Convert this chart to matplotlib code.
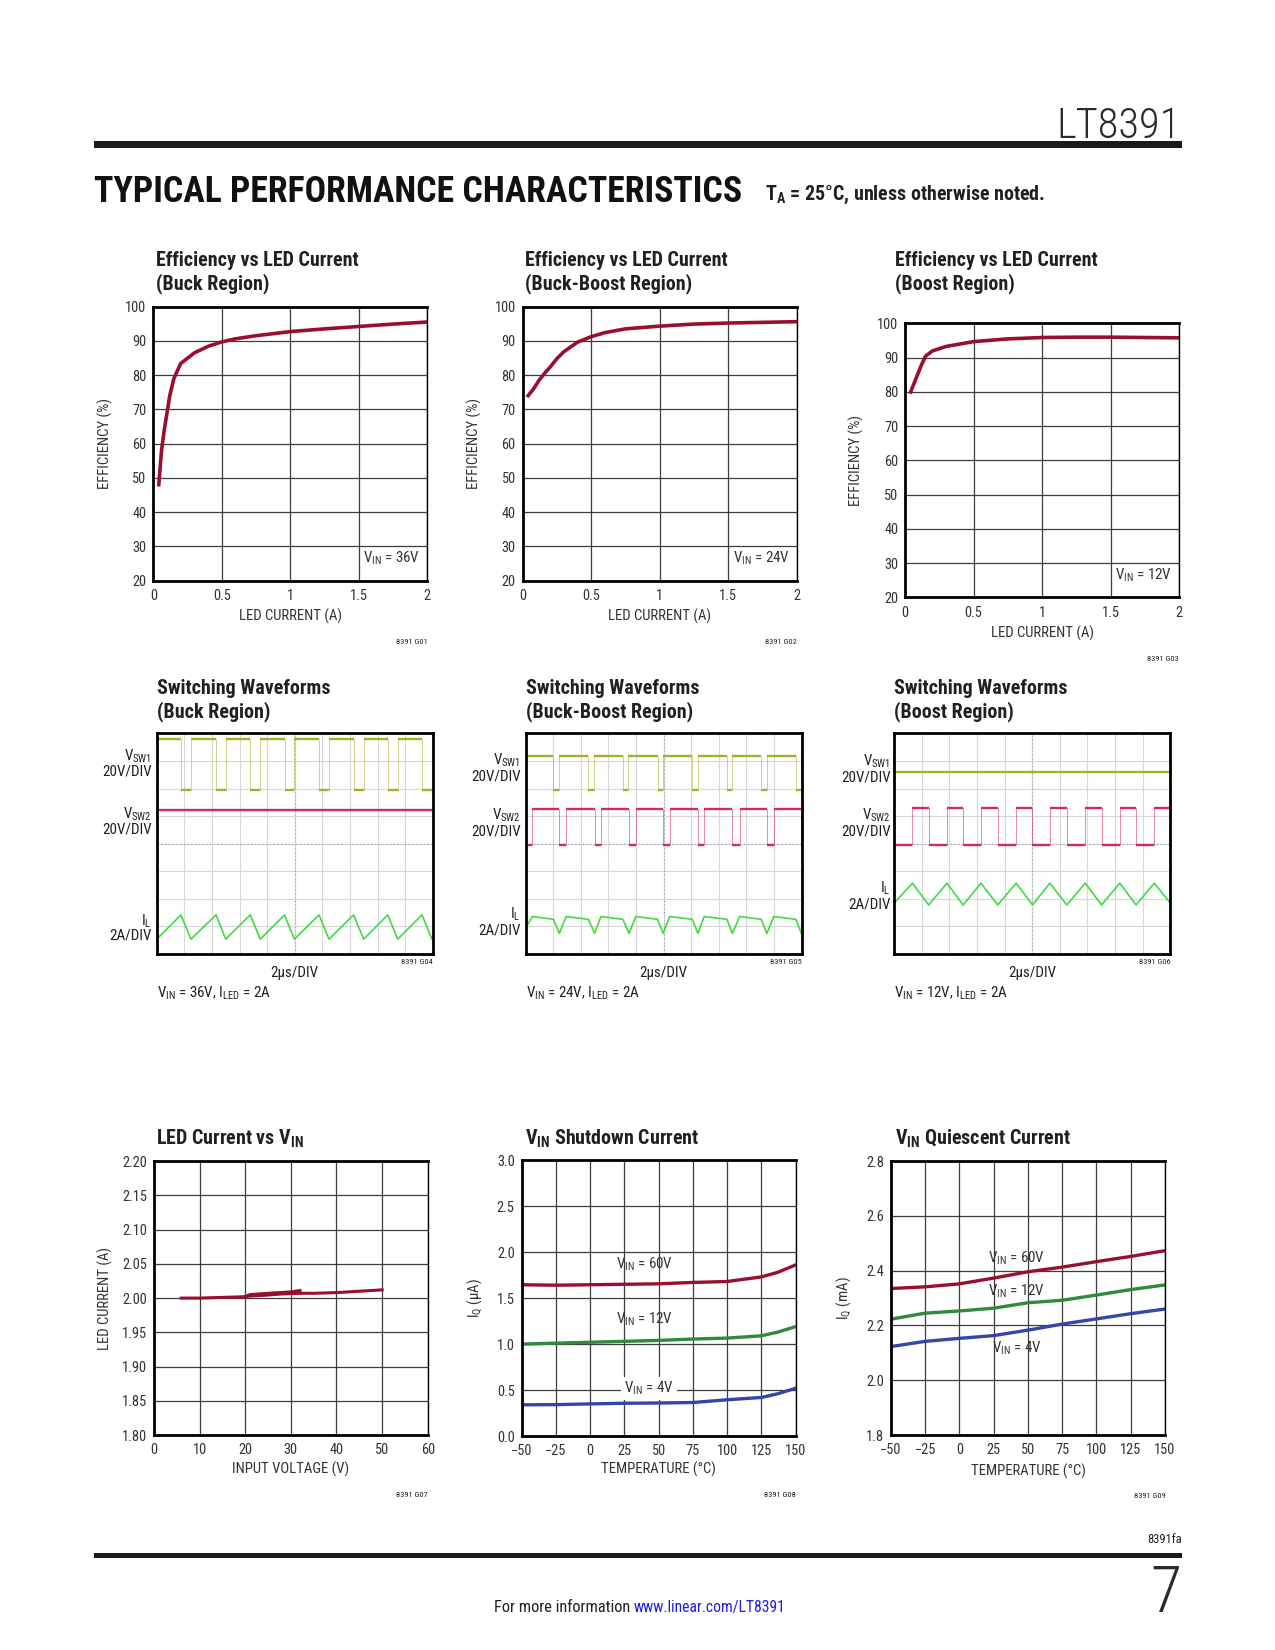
import matplotlib
matplotlib.use("Agg")
import matplotlib.pyplot as plt
from matplotlib import font_manager
from matplotlib.patches import Rectangle

# pick a condensed sans if one is installed (reference uses Helvetica Condensed)
entries = font_manager.fontManager.ttflist
names = {f.name for f in entries}
FAMILY, STRETCH = "Liberation Sans", "normal"
for cand in ["Liberation Sans Narrow", "Roboto Condensed", "Noto Sans Condensed", "Open Sans Condensed",
             "DejaVu Sans Condensed", "Noto Sans SemiCondensed", "Open Sans SemiCondensed"]:
    if cand in names:
        FAMILY = cand
        break
else:
    for f in entries:
        if str(f.stretch) in ("condensed", "semi-condensed") and f.name in (
                "Roboto", "Noto Sans", "Open Sans", "DejaVu Sans", "Liberation Sans"):
            FAMILY, STRETCH = f.name, str(f.stretch)
            break

SUFFIX = "" if STRETCH == "normal" else ":" + STRETCH
plt.rcParams["font.family"] = [FAMILY, "DejaVu Sans"]
plt.rcParams["font.stretch"] = STRETCH
plt.rcParams["mathtext.fontset"] = "custom"
plt.rcParams["mathtext.rm"] = FAMILY + SUFFIX
plt.rcParams["mathtext.it"] = FAMILY + SUFFIX
plt.rcParams["mathtext.bf"] = FAMILY + ":bold" + SUFFIX
plt.rcParams["mathtext.default"] = "rm"

INK = "#231f20"
RED = "#9a0f30"
GREEN = "#2f8a3c"
BLUE = "#3446a8"
GRID = "#3c3c3c"
SW1_C = "#a9ad2c"
SW2_C = "#d4286c"
IL_C = "#3fdc3f"

TICK_FS = 10.4
LABEL_FS = 10.6
NOTE_FS = 10.8
TITLE_FS = 14.4
CODE_FS = 6

# ---- efficiency vs LED current ----
EFF_XTICKS = [0, 0.5, 1, 1.5, 2]
EFF_XTICKLABELS = ["0", "0.5", "1", "1.5", "2"]
EFF_YTICKS = [20, 30, 40, 50, 60, 70, 80, 90, 100]

buck_i = [0.04, 0.06, 0.08, 0.10, 0.12, 0.15, 0.20, 0.30, 0.40, 0.50, 0.60, 0.75, 1.00, 1.25, 1.50, 1.75, 2.00]
buck_eff = [48, 58, 64, 69, 74, 79, 83.4, 86.5, 88.4, 89.7, 90.6, 91.5, 92.7, 93.5, 94.2, 94.9, 95.5]

bb_i = [0.04, 0.08, 0.12, 0.16, 0.20, 0.25, 0.30, 0.40, 0.50, 0.60, 0.75, 1.00, 1.25, 1.50, 1.75, 2.00]
bb_eff = [74, 76, 78.5, 80.5, 82.3, 84.8, 86.8, 89.6, 91.2, 92.4, 93.5, 94.3, 94.9, 95.2, 95.4, 95.6]

bst_i = [0.04, 0.08, 0.12, 0.15, 0.20, 0.30, 0.50, 0.75, 1.00, 1.25, 1.50, 1.75, 2.00]
bst_eff = [80, 84, 88, 90.5, 92, 93.3, 94.7, 95.5, 95.9, 96.0, 96.0, 95.9, 95.8]

# ---- switching waveforms (scope divisions: x 0..10, y 0..8) ----
buck_sw1_fall = [0.88, 2.15, 3.39, 4.63, 5.88, 7.13, 8.37, 9.61]
buck_sw1_rise = [1.24, 2.50, 3.75, 4.99, 6.24, 7.50, 8.73, 9.97]
buck_sw1_lv = (7.80, 5.94)
buck_sw2_lv = 5.23
buck_il_lv = (1.42, 0.54)

bb_sw1_fall = [1.01, 2.27, 3.52, 4.78, 6.04, 7.29, 8.53, 9.79]
bb_sw1_rise = [1.21, 2.47, 3.72, 4.98, 6.24, 7.49, 8.74, 9.99]
bb_sw1_lv = (7.19, 5.95)
bb_sw2_rise = [0.25, 1.47, 2.73, 3.99, 5.22, 6.47, 7.75, 8.99]
bb_sw2_fall = [1.22, 2.50, 3.75, 4.98, 6.24, 7.49, 8.74, 9.99]
bb_sw2_lv = (5.27, 3.94)
bb_il_lv = (1.36, 1.26, 0.75)
bb_il_start = 0.95

bst_sw1_lv = 6.59
bst_sw2_rise = [0.66, 1.91, 3.14, 4.42, 5.64, 6.92, 8.17, 9.42]
bst_sw2_fall = [1.25, 2.50, 3.75, 5.01, 6.25, 7.51, 8.76]
bst_sw2_lv = (5.29, 3.96)
bst_il_lv = (2.57, 1.78)
bst_il_start = 1.85
bst_il_end = 1.85

# ---- LED current vs VIN ----
led_vin_up = [6, 10, 15, 20, 21, 25, 30, 32]
led_i_up = [2.000, 2.000, 2.001, 2.002, 2.005, 2.007, 2.009, 2.011]
led_vin_dn = [32, 28, 24, 21, 20]
led_i_dn = [2.007, 2.006, 2.004, 2.003, 2.002]
led_vin_hi = [32, 35, 40, 45, 50]
led_i_hi = [2.007, 2.007, 2.008, 2.010, 2.012]

# ---- shutdown current ----
TEMP = [-50, -25, 0, 25, 50, 75, 100, 125, 137, 150]
TEMP_TICKS = [-50, -25, 0, 25, 50, 75, 100, 125, 150]
TEMP_LABELS = ["\u221250", "\u221225", "0", "25", "50", "75", "100", "125", "150"]
shdn_60 = [1.645, 1.640, 1.645, 1.650, 1.655, 1.670, 1.680, 1.730, 1.780, 1.860]
shdn_12 = [1.000, 1.010, 1.020, 1.030, 1.040, 1.055, 1.065, 1.090, 1.130, 1.190]
shdn_4 = [0.340, 0.342, 0.350, 0.357, 0.360, 0.365, 0.395, 0.420, 0.460, 0.520]

# ---- quiescent current ----
TEMP_Q = [-50, -25, 0, 25, 50, 75, 100, 125, 150]
iq_60 = [2.335, 2.341, 2.352, 2.373, 2.396, 2.413, 2.433, 2.452, 2.473]
iq_12 = [2.223, 2.245, 2.253, 2.263, 2.283, 2.292, 2.311, 2.331, 2.348]
iq_4 = [2.123, 2.142, 2.153, 2.163, 2.183, 2.205, 2.224, 2.243, 2.260]

# page frame (reference measured on a 1210 x 1566 grid)
W, H = 1210.0, 1566.0
fig = plt.figure(figsize=(12.75, 16.5), dpi=100)
fig.patch.set_facecolor("white")


def frac(x0, y0, x1, y1):
    return [x0 / W, 1 - y1 / H, (x1 - x0) / W, (y1 - y0) / H]


def ftxt(x, y, s, **kw):
    kw.setdefault("color", INK)
    return fig.text(x / W, 1 - y / H, s, **kw)


def rule(x0, y0, x1, y1):
    fig.patches.append(Rectangle((x0 / W, 1 - y1 / H), (x1 - x0) / W, (y1 - y0) / H,
                                 transform=fig.transFigure, color="#1a1a1a", lw=0))


def fit_width(t, width):
    # scale a text so it spans the given page width
    r = fig.canvas.get_renderer()
    w = t.get_window_extent(renderer=r).width
    target = width / W * fig.bbox.width
    t.set_fontsize(t.get_fontsize() * target / w)


def style(ax):
    ax.grid(True, color=GRID, lw=0.9)
    ax.set_axisbelow(True)
    ax.tick_params(length=0, labelsize=TICK_FS, colors="#333333")
    ax.tick_params(axis="x", pad=6)
    ax.tick_params(axis="y", pad=5)
    for name, sp in ax.spines.items():
        sp.set_color("black")
        sp.set_linewidth(2.0 if name in ("left", "top", "bottom") else 1.0)


def title(x, y, lines):
    for k, ln in enumerate(lines):
        ftxt(x, y + 22 * k, ln, fontsize=TITLE_FS, fontweight="bold", va="center", ha="left")


# ---------------- page furniture ----------------
t = ftxt(1121, 131, "LT8391", fontsize=33, ha="right", va="baseline", color="#2a2a2a", fontweight="light")
fit_width(t, 118)
rule(89, 134, 1122, 140)
t = ftxt(89, 192, "TYPICAL PERFORMANCE CHARACTERISTICS", fontsize=28, fontweight="heavy",
         ha="left", va="baseline", color="#111111")
fit_width(t, 617)
t = ftxt(726, 190, "T$_{\\mathbf{A}}$ = 25\u00b0C, unless otherwise noted.", fontsize=12.5,
         fontweight="bold", ha="left", va="baseline")
fit_width(t, 267)
ftxt(1122, 1461, "8391fa", fontsize=9, ha="right", va="center")
rule(89, 1474, 1122, 1479)
ftxt(1121, 1530, "7", fontsize=46, ha="right", va="baseline", color="#2a2a2a", fontweight="light")
t = ftxt(598, 1526, "For more information", fontsize=11, ha="right", va="center")
fit_width(t, 130)
t = ftxt(601, 1526, "www.linear.com/LT8391", fontsize=11, ha="left", va="center", color="#1c1cf0")
fit_width(t, 144)

# ---------------- row 1: efficiency ----------------
eff_specs = [
    ((145.5, 291, 405.5, 551), buck_i, buck_eff, "36V", "8391 G01", 148, ["Efficiency vs LED Current", "(Buck Region)"]),
    ((496, 291, 756, 551), bb_i, bb_eff, "24V", "8391 G02", 498, ["Efficiency vs LED Current", "(Buck-Boost Region)"]),
    ((859, 307, 1119, 567), bst_i, bst_eff, "12V", "8391 G03", 849, ["Efficiency vs LED Current", "(Boost Region)"]),
]
for (bx, xs, ys, vin, code, tx, ttl) in eff_specs:
    ax = fig.add_axes(frac(*bx))
    ax.plot(xs, ys, color=RED, lw=2.6)
    ax.set_xlim(0, 2)
    ax.set_ylim(20, 100)
    ax.set_xticks(EFF_XTICKS)
    ax.set_xticklabels(EFF_XTICKLABELS)
    ax.set_yticks(EFF_YTICKS)
    style(ax)
    ax.text(0.975, 0.05, "V$_{IN}$ = " + vin, transform=ax.transAxes, ha="right", va="bottom",
            fontsize=NOTE_FS, color="#333333")
    x0, y0, x1, y1 = bx
    ftxt((x0 + x1) / 2, y1 + 34, "LED CURRENT (A)", fontsize=LABEL_FS, ha="center", va="center", color="#333333")
    ftxt(x0 - 46, (y0 + y1) / 2, "EFFICIENCY (%)", fontsize=LABEL_FS, rotation=90, ha="center", va="center",
         color="#333333")
    ftxt(x1, y1 + 58, code, fontsize=CODE_FS, ha="right", va="center")
    title(tx, 247, ttl)


# ---------------- row 2: switching waveforms ----------------
def step_xy(start, events, t_end=10.0):
    xs, ys = [0.0], [start]
    lv = start
    for t, v in sorted(events):
        xs += [t, t]
        ys += [lv, v]
        lv = v
    xs.append(t_end)
    ys.append(lv)
    return xs, ys


def draw_step(ax, xs, ys, color):
    ax.plot(xs, ys, color=color, lw=0.7, alpha=0.55)
    for k in range(0, len(xs) - 1):
        if ys[k] == ys[k + 1] and xs[k + 1] > xs[k]:
            ax.plot([xs[k], xs[k + 1]], [ys[k], ys[k + 1]], color=color, lw=1.7, solid_capstyle="butt")


def scope_axes(bx):
    ax = fig.add_axes(frac(*bx))
    ax.set_xlim(0, 10)
    ax.set_ylim(0, 8)
    ax.set_xticks(range(11))
    ax.set_yticks(range(9))
    ax.grid(True, color="#d8d8d8", lw=0.8)
    ax.axhline(4, color="#a8a8a8", lw=0.9, ls=(0, (1, 2)))
    ax.axvline(5, color="#a8a8a8", lw=0.9, ls=(0, (1, 2)))
    ax.tick_params(length=0, labelbottom=False, labelleft=False)
    for sp in ax.spines.values():
        sp.set_color("black")
        sp.set_linewidth(2.0)
    return ax


def scope_labels(xr, ys):
    txt = ["V$_{SW1}$", "20V/DIV", "V$_{SW2}$", "20V/DIV", "I$_{L}$", "2A/DIV"]
    for s, y in zip(txt, ys):
        ftxt(xr, y, s, fontsize=NOTE_FS, ha="right", va="center")


scope_boxes = [(148.7, 696, 410.7, 905.5), (498.8, 696, 760.8, 905.5), (848.6, 696, 1110.6, 905.5)]

# buck
ax = scope_axes(scope_boxes[0])
ev = [(t, buck_sw1_lv[1]) for t in buck_sw1_fall] + [(t, buck_sw1_lv[0]) for t in buck_sw1_rise]
draw_step(ax, *step_xy(buck_sw1_lv[0], ev), SW1_C)
ax.plot([0, 10], [buck_sw2_lv, buck_sw2_lv], color=SW2_C, lw=1.7)
pts = [(0.0, buck_il_lv[1])] + [(t, buck_il_lv[0]) for t in buck_sw1_fall] + [(t, buck_il_lv[1]) for t in buck_sw1_rise]
pts = sorted(pts) + [(10.0, buck_il_lv[1] + 0.03)]
ax.plot([p[0] for p in pts], [p[1] for p in pts], color=IL_C, lw=1.2)
scope_labels(144, [718, 732, 773, 787, 874, 888])

# buck-boost
ax = scope_axes(scope_boxes[1])
ev = [(t, bb_sw1_lv[1]) for t in bb_sw1_fall] + [(t, bb_sw1_lv[0]) for t in bb_sw1_rise]
draw_step(ax, *step_xy(bb_sw1_lv[0], ev), SW1_C)
ev = [(t, bb_sw2_lv[0]) for t in bb_sw2_rise] + [(t, bb_sw2_lv[1]) for t in bb_sw2_fall]
draw_step(ax, *step_xy(bb_sw2_lv[1], ev), SW2_C)
pts = [(0.0, bb_il_start)] + [(t, bb_il_lv[0]) for t in bb_sw2_rise] + \
      [(t, bb_il_lv[1]) for t in bb_sw1_fall] + [(t, bb_il_lv[2]) for t in bb_sw2_fall]
pts = sorted(pts) + [(10.0, bb_il_lv[2] + 0.05)]
ax.plot([p[0] for p in pts], [p[1] for p in pts], color=IL_C, lw=1.2)
scope_labels(494, [722, 737, 774, 789, 868, 883])

# boost
ax = scope_axes(scope_boxes[2])
ax.plot([0, 10], [bst_sw1_lv, bst_sw1_lv], color=SW1_C, lw=1.7)
ev = [(t, bst_sw2_lv[0]) for t in bst_sw2_rise] + [(t, bst_sw2_lv[1]) for t in bst_sw2_fall]
draw_step(ax, *step_xy(bst_sw2_lv[1], ev), SW2_C)
pts = [(0.0, bst_il_start)] + [(t, bst_il_lv[0]) for t in bst_sw2_rise] + [(t, bst_il_lv[1]) for t in bst_sw2_fall]
pts = sorted(pts) + [(10.0, bst_il_end)]
ax.plot([p[0] for p in pts], [p[1] for p in pts], color=IL_C, lw=1.2)
scope_labels(845, [723, 738, 774, 789, 843, 858])

scope_titles = [["Switching Waveforms", "(Buck Region)"],
                ["Switching Waveforms", "(Buck-Boost Region)"],
                ["Switching Waveforms", "(Boost Region)"]]
scope_notes = ["V$_{IN}$ = 36V, I$_{LED}$ = 2A", "V$_{IN}$ = 24V, I$_{LED}$ = 2A", "V$_{IN}$ = 12V, I$_{LED}$ = 2A"]
scope_codes = ["8391 G04", "8391 G05", "8391 G06"]
for bx, ttl, note, code in zip(scope_boxes, scope_titles, scope_notes, scope_codes):
    x0, y0, x1, y1 = bx
    title(x0, 653, ttl)
    ftxt((x0 + x1) / 2, 923, "2\u00b5s/DIV", fontsize=NOTE_FS, ha="center", va="center")
    ftxt(x0, 943, note, fontsize=NOTE_FS, ha="left", va="center")
    ftxt(x1, 913, code, fontsize=CODE_FS, ha="right", va="center")

# ---------------- row 3 ----------------
# LED current vs VIN
bx = (146, 1102, 406, 1362)
ax = fig.add_axes(frac(*bx))
ax.plot(led_vin_up, led_i_up, color=RED, lw=2.2)
ax.plot(led_vin_dn, led_i_dn, color=RED, lw=2.2)
ax.plot(led_vin_hi, led_i_hi, color=RED, lw=2.2)
ax.set_xlim(0, 60)
ax.set_ylim(1.80, 2.20)
ax.set_xticks([0, 10, 20, 30, 40, 50, 60])
ax.set_yticks([1.80, 1.85, 1.90, 1.95, 2.00, 2.05, 2.10, 2.15, 2.20])
ax.set_yticklabels(["1.80", "1.85", "1.90", "1.95", "2.00", "2.05", "2.10", "2.15", "2.20"])
style(ax)
ftxt(276, 1395, "INPUT VOLTAGE (V)", fontsize=LABEL_FS, ha="center", va="center", color="#333333")
ftxt(100, 1232, "LED CURRENT (A)", fontsize=LABEL_FS, rotation=90, ha="center", va="center", color="#333333")
ftxt(406, 1419, "8391 G07", fontsize=CODE_FS, ha="right", va="center")
title(148, 1081, ["LED Current vs V$_{\\mathbf{IN}}$"])

# shutdown current
bx = (495, 1101, 755, 1363)
ax = fig.add_axes(frac(*bx))
ax.plot(TEMP, shdn_60, color=RED, lw=2.4)
ax.plot(TEMP, shdn_12, color=GREEN, lw=2.4)
ax.plot(TEMP, shdn_4, color=BLUE, lw=2.4)
ax.set_xlim(-50, 150)
ax.set_ylim(0, 3.0)
ax.set_xticks(TEMP_TICKS)
ax.set_xticklabels(TEMP_LABELS)
ax.set_yticks([0, 0.5, 1.0, 1.5, 2.0, 2.5, 3.0])
ax.set_yticklabels(["0.0", "0.5", "1.0", "1.5", "2.0", "2.5", "3.0"])
style(ax)
ax.text(40, 1.87, "V$_{IN}$ = 60V", fontsize=NOTE_FS, ha="center", va="center", color="#333333")
ax.text(40, 1.27, "V$_{IN}$ = 12V", fontsize=NOTE_FS, ha="center", va="center", color="#333333")
ax.text(43, 0.52, "V$_{IN}$ = 4V", fontsize=NOTE_FS, ha="center", va="center", color="#333333",
        bbox=dict(fc="white", ec="none", pad=2))
ftxt(625, 1395, "TEMPERATURE (\u00b0C)", fontsize=LABEL_FS, ha="center", va="center", color="#333333")
ftxt(451, 1232, "I$_{Q}$ (\u00b5A)", fontsize=LABEL_FS, rotation=90, ha="center", va="center", color="#333333")
ftxt(755, 1419, "8391 G08", fontsize=CODE_FS, ha="right", va="center")
title(498, 1081, ["V$_{\\mathbf{IN}}$ Shutdown Current"])

# quiescent current
bx = (845.5, 1102, 1105.5, 1362)
ax = fig.add_axes(frac(*bx))
ax.plot(TEMP_Q, iq_60, color=RED, lw=2.4)
ax.plot(TEMP_Q, iq_12, color=GREEN, lw=2.4)
ax.plot(TEMP_Q, iq_4, color=BLUE, lw=2.4)
ax.set_xlim(-50, 150)
ax.set_ylim(1.8, 2.8)
ax.set_xticks(TEMP_TICKS)
ax.set_xticklabels(TEMP_LABELS)
ax.set_yticks([1.8, 2.0, 2.2, 2.4, 2.6, 2.8])
ax.set_yticklabels(["1.8", "2.0", "2.2", "2.4", "2.6", "2.8"])
style(ax)
ax.text(42, 2.447, "V$_{IN}$ = 60V", fontsize=NOTE_FS, ha="center", va="center", color="#333333")
ax.text(42, 2.323, "V$_{IN}$ = 12V", fontsize=NOTE_FS, ha="center", va="center", color="#333333")
ax.text(42, 2.118, "V$_{IN}$ = 4V", fontsize=NOTE_FS, ha="center", va="center", color="#333333")
ftxt(976, 1396, "TEMPERATURE (\u00b0C)", fontsize=LABEL_FS, ha="center", va="center", color="#333333")
ftxt(801, 1232, "I$_{Q}$ (mA)", fontsize=LABEL_FS, rotation=90, ha="center", va="center", color="#333333")
ftxt(1106, 1420, "8391 G09", fontsize=CODE_FS, ha="right", va="center")
title(849, 1081, ["V$_{\\mathbf{IN}}$ Quiescent Current"])

fig.savefig("out.png", dpi=100, facecolor="white")
